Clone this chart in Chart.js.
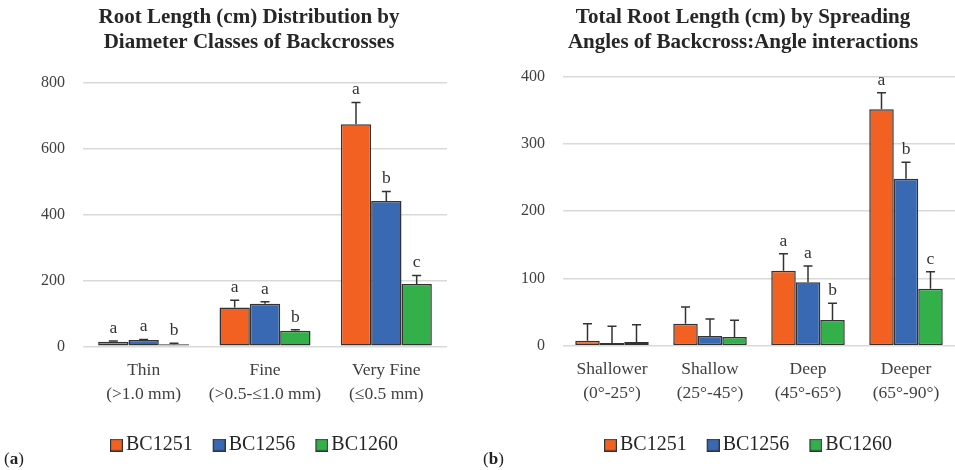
<!DOCTYPE html>
<html><head><meta charset="utf-8">
<script src="https://cdn.jsdelivr.net/npm/chart.js@4"></script>
<style>
html,body{margin:0;padding:0;background:#fff;overflow:hidden;}
#wrap{position:relative;width:955px;height:470px;overflow:hidden;background:#fff;}
#c1{position:absolute;left:0;top:0;}
#c2{position:absolute;left:480px;top:0;}
.tag{position:absolute;font-family:"Liberation Serif",serif;font-size:17px;color:#222;line-height:17px;}
</style></head><body>
<div id="wrap">
<canvas id="c1" width="480" height="470"></canvas>
<canvas id="c2" width="487" height="470"></canvas>
<div class="tag" style="left:4px;top:450px">(<b>a</b>)</div>
<div class="tag" style="left:483px;top:450px">(<b>b</b>)</div>
</div>
<script>
// ---------- data: panel (a) ----------
const seriesNames = ['BC1251', 'BC1256', 'BC1260'];
const seriesColors = ['#F26122', '#3A69B3', '#34B04A'];

const diameterCategories = [['Thin', '(>1.0 mm)'], ['Fine', '(>0.5-\u22641.0 mm)'], ['Very Fine', '(\u22640.5 mm)']];
const diamBC1251 = [14, 118, 674];
const diamBC1256 = [19, 129, 441];
const diamBC1260 = [6, 47, 189];
const diamErrBC1251 = [2, 22, 66];
const diamErrBC1256 = [2, 6, 29];
const diamErrBC1260 = [3, 3, 26];
const diamLetBC1251 = ['a', 'a', 'a'];
const diamLetBC1256 = ['a', 'a', 'b'];
const diamLetBC1260 = ['b', 'b', 'c'];
const diamTicks = [0, 200, 400, 600, 800];

// ---------- data: panel (b) ----------
const angleCategories = [['Shallower', '(0\u00b0-25\u00b0)'], ['Shallow', '(25\u00b0-45\u00b0)'], ['Deep', '(45\u00b0-65\u00b0)'], ['Deeper', '(65\u00b0-90\u00b0)']];
const angBC1251 = [7.5, 32.7, 111.5, 351.5];
const angBC1256 = [4.0, 14.4, 94.3, 248.3];
const angBC1260 = [5.5, 13.0, 38.2, 84.8];
const angErrBC1251 = [25, 25, 25.3, 24.5];
const angErrBC1256 = [25, 25.3, 24.2, 24.4];
const angErrBC1260 = [25.5, 25, 24.8, 25.2];
const angLetBC1251 = ['', '', 'a', 'a'];
const angLetBC1256 = ['', '', 'a', 'b'];
const angLetBC1260 = ['', '', 'b', 'c'];
const angTicks = [0, 100, 200, 300, 400];

// ---------- styling ----------
const FONT = '"Liberation Serif", "Times New Roman", serif';
Chart.defaults.font.family = FONT;
const EDGE = '#333333';

// legend swatch: 13px square, placed so that it sits 3px left of the label text
function makeIcon(color) {
  const c = document.createElement('canvas');
  c.width = 30; c.height = 13;
  const g = c.getContext('2d');
  g.fillStyle = color; g.fillRect(17, 0, 13, 13);
  g.strokeStyle = EDGE; g.lineWidth = 1.2; g.strokeRect(17.6, 0.6, 11.8, 11.8);
  return c;
}
const legendIcons = seriesColors.map(makeIcon);

const errLetterPlugin = {
  id: 'errLetters',
  afterDatasetsDraw(chart) {
    const ctx = chart.ctx, ys = chart.scales.y;
    ctx.save();
    chart.data.datasets.forEach((ds, i) => {
      const meta = chart.getDatasetMeta(i);
      if (meta.hidden) return;
      meta.data.forEach((bar, j) => {
        const x = bar.x;
        const yv = ys.getPixelForValue(ds.data[j]);
        const yt = ys.getPixelForValue(ds.data[j] + ds.errors[j]);
        ctx.strokeStyle = EDGE; ctx.lineWidth = 1.5;
        ctx.beginPath();
        ctx.moveTo(x, yv); ctx.lineTo(x, yt);
        ctx.moveTo(x - 4.5, yt); ctx.lineTo(x + 4.5, yt);
        ctx.stroke();
        const L = ds.letters[j];
        if (L) {
          ctx.fillStyle = '#333';
          ctx.font = '17.5px ' + FONT;
          ctx.textAlign = 'center';
          ctx.textBaseline = 'alphabetic';
          ctx.fillText(L, x, yt - 8);
        }
      });
    });
    ctx.restore();
  }
};

function buildDatasets(values, errors, letters) {
  return seriesNames.map((name, i) => ({
    label: name,
    data: values[i],
    errors: errors[i],
    letters: letters[i],
    backgroundColor: seriesColors[i],
    borderColor: EDGE,
    borderWidth: 1.5,
    borderSkipped: false,
    categoryPercentage: 0.75,
    barPercentage: 1.0
  }));
}

function makeChart(canvasId, cfg) {
  return new Chart(document.getElementById(canvasId), {
    type: 'bar',
    data: { labels: cfg.labels, datasets: cfg.datasets },
    plugins: [errLetterPlugin],
    options: {
      responsive: false,
      animation: false,
      devicePixelRatio: 1,
      layout: { padding: { left: cfg.padLeft, right: cfg.padRight, top: 0, bottom: 5 } },
      plugins: {
        tooltip: { enabled: false },
        title: {
          display: true,
          text: cfg.title,
          color: '#262626',
          font: { size: 21, weight: 'bold', lineHeight: 25 / 21 },
          padding: { top: 5.4, bottom: cfg.titleBottom }
        },
        legend: {
          position: 'bottom',
          labels: {
            usePointStyle: true,
            pointStyleWidth: 16,
            color: '#262626',
            font: { size: 20 },
            padding: 10,
            generateLabels(chart) {
              const items = Chart.defaults.plugins.legend.labels.generateLabels(chart);
              items.forEach((it, i) => { it.pointStyle = legendIcons[i]; });
              return items;
            }
          }
        }
      },
      scales: {
        x: {
          grid: { display: false, drawTicks: false },
          border: { display: false },
          ticks: { color: '#404040', font: { size: 17.5, lineHeight: 24 / 17.5 }, padding: 12, maxRotation: 0, autoSkip: false },
          afterFit(s) { s.height = cfg.xHeight; }
        },
        y: {
          min: 0, max: cfg.max,
          afterBuildTicks(s) { s.ticks = cfg.ticks.map(v => ({ value: v })); },
          grid: { color: '#d9d9d9', lineWidth: 1.5, drawTicks: false },
          border: { display: false },
          ticks: { color: '#404040', font: { size: 16 }, padding: 18 },
          afterFit(s) { s.width = 83 - cfg.padLeft; }
        },
        yr: {
          type: 'linear', position: 'right', min: 0, max: cfg.max,
          grid: { display: false, drawTicks: false },
          border: { display: false },
          ticks: { display: false },
          afterFit(s) { s.width = cfg.rightGap; }
        }
      }
    }
  });
}

makeChart('c1', {
  labels: diameterCategories,
  datasets: buildDatasets([diamBC1251, diamBC1256, diamBC1260],
                          [diamErrBC1251, diamErrBC1256, diamErrBC1260],
                          [diamLetBC1251, diamLetBC1256, diamLetBC1260]),
  title: ['Root Length (cm) Distribution by', 'Diameter Classes of Backcrosses'],
  max: 800, ticks: diamTicks,
  padLeft: 36, padRight: 18, rightGap: 15, titleBottom: 27.3, xHeight: 78.7
});

makeChart('c2', {
  labels: angleCategories,
  datasets: buildDatasets([angBC1251, angBC1256, angBC1260],
                          [angErrBC1251, angErrBC1256, angErrBC1260],
                          [angLetBC1251, angLetBC1256, angLetBC1260]),
  title: ['Total Root Length (cm) by Spreading', 'Angles of Backcross:Angle interactions'],
  max: 400, ticks: angTicks,
  padLeft: 39, padRight: 0, rightGap: 12, titleBottom: 21.3, xHeight: 79.3
});
</script>
</body></html>
